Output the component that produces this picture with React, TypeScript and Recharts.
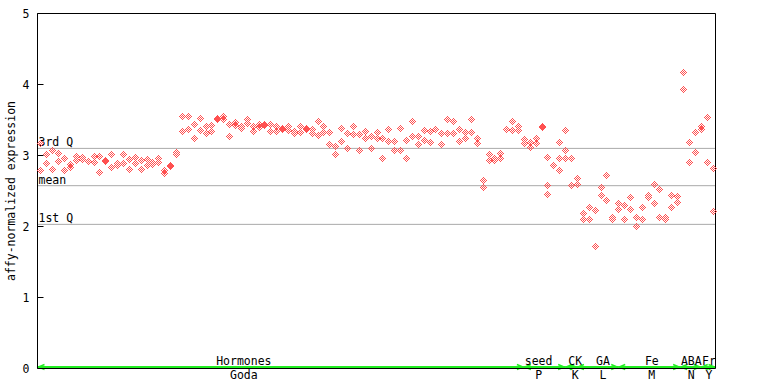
import React from 'react';
import { ComposedChart, Scatter, XAxis, YAxis, CartesianGrid, ReferenceLine } from 'recharts';

// replicate values per sample (samples 1..115, left to right)
const rep1 = [
  3.17, 3.02, 3.08, 3.03, 2.96, 2.88, 2.99, 2.98, 2.92, 2.99,
  3.0, 2.93, 3.02, 2.89, 3.02, 2.95, 2.98, 2.94, 2.95, 2.91,
  2.96, 2.8, 2.87, 3.05, 3.56, 3.55, 3.45, 3.53, 3.42, 3.43,
  3.53, 3.55, 3.44, 3.47, 3.41, 3.51, 3.42, 3.44, 3.44, 3.44,
  3.42, 3.39, 3.42, 3.35, 3.41, 3.39, 3.37, 3.48, 3.41, 3.33,
  3.14, 3.39, 3.31, 3.41, 3.3, 3.34, 3.28, 3.33, 3.24, 3.37,
  3.2, 3.39, 3.22, 3.48, 3.27, 3.36, 3.34, 3.37, 3.32, 3.51,
  3.49, 3.38, 3.33, 3.51, 3.24, 2.65, 3.02, 2.97, 3.04, 3.38,
  3.48, 3.42, 3.23, 3.19, 3.24, 3.41, 2.98, 2.87, 3.19, 3.36,
  2.96, 2.68, 2.19, 2.27, 2.23, 2.55, 2.72, 2.13, 2.33, 2.3,
  2.41, 2.13, 2.27, 2.44, 2.6, 2.53, 2.13, 2.44, 2.43, 4.18,
  3.19, 3.33, 3.42, 3.54, 2.83,
];
const rep2 = [
  2.8, 2.89, 2.81, 2.92, 2.79, 2.84, 2.93, 2.95, 2.92, 2.91,
  2.77, 2.92, 2.84, 2.86, 2.9, 2.81, 2.89, 2.81, 2.86, 2.88,
  2.91, 2.76, 2.85, 3.02, 3.35, 3.37, 3.25, 3.36, 3.31, 3.35,
  3.51, 3.51, 3.28, 3.43, 3.39, 3.46, 3.35, 3.4, 3.43, 3.35,
  3.34, 3.37, 3.36, 3.32, 3.33, 3.37, 3.31, 3.29, 3.33, 3.16,
  3.02, 3.2, 3.1, 3.3, 3.08, 3.24, 3.11, 3.25, 2.96, 3.21,
  3.08, 3.08, 2.97, 3.27, 3.16, 3.22, 3.19, 3.37, 3.16, 3.32,
  3.32, 3.21, 3.25, 3.33, 3.17, 2.55, 2.94, 2.94, 2.97, 3.38,
  3.36, 3.36, 3.17, 3.12, 3.18, 3.4, 2.58, 2.86, 2.96, 3.08,
  2.58, 2.6, 2.11, 2.1, 1.72, 2.45, 2.37, 2.1, 2.24, 2.1,
  2.25, 2.01, 2.1, 2.41, 2.33, 2.13, 2.1, 2.27, 2.35, 3.93,
  2.91, 3.05, 3.38, 2.91, 2.22,
];
// a few samples have a third replicate: [sample, value]
const rep3: [number, number][] = [
  [87, 2.46],
  [89, 2.8],
  [90, 2.97],
];

const q3 = 3.1;
const mean = 2.575;
const q1 = 2.03;

const groupTop = ['Hormones', 'seed', 'CK', 'GA', 'Fe', 'ABA', 'Fr'];
const groupBottom = ['Goda', 'P', 'K', 'L', 'M', 'N', 'Y'];
const groupStart = [0, 82.5, 89.5, 91.5, 98.5, 109, 112.5];
const groupEnd = [82.5, 89.5, 91.5, 98.5, 109, 112.5, 115];
const groupLabelAt = [35, 85, 91.2, 95.9, 104.2, 110.9, 113.9];

const yTicks = [0, 1, 2, 3, 4, 5];
const xGrid = [10, 20, 30, 40, 50, 60, 70, 80, 90, 100, 110];

const FONT = '"DejaVu Sans Mono", monospace';
const RED = '#ff5050';
const GREEN = '#22ee22';

const points = rep1
  .flatMap((v, i) => [
    { x: i + 0.5, y: v },
    { x: i + 0.5, y: rep2[i] },
  ])
  .concat(rep3.map(([s, v]) => ({ x: s - 0.5, y: v })));

// checkered diamond like the original bitmap marker
const Diamond = (props: any) => {
  const cx = Math.round(props.cx);
  const cy = Math.round(props.cy);
  let d = '';
  for (let dx = -3; dx <= 3; dx++) {
    for (let dy = -3; dy <= 3; dy++) {
      const m = Math.abs(dx) + Math.abs(dy);
      if (m <= 3 && m % 2 === 1) d += `M${cx + dx} ${cy + dy}h1v1h-1z`;
    }
  }
  return <path d={d} fill={RED} shapeRendering="crispEdges" />;
};

const LeftTick = (props: any) => {
  const { x, y, payload } = props;
  return (
    <g>
      <line x1={x + 8} x2={x + 14} y1={y} y2={y} stroke="#000" />
      <text x={x} y={y + 4} textAnchor="end" fontFamily={FONT} fontSize={11.5} fill="#000">
        {payload.value}
      </text>
    </g>
  );
};

const RightTick = (props: any) => {
  const { x, y } = props;
  return <line x1={x - 8} x2={x - 14} y1={y} y2={y} stroke="#000" />;
};

const qLabel = (text: string) => (props: any) => {
  const vb = props.viewBox || {};
  return (
    <text x={vb.x + 1} y={vb.y - 2} fontFamily={FONT} fontSize={11.5} fill="#000">
      {text}
    </text>
  );
};

const groupShape = (i: number) => (props: any) => {
  const { x1, x2, y1 } = props;
  const y = y1 - 1.5;
  const lx = x1 + ((x2 - x1) * (groupLabelAt[i] - groupStart[i])) / (groupEnd[i] - groupStart[i]);
  return (
    <g>
      <line x1={x1} x2={x2} y1={y} y2={y} stroke={GREEN} strokeWidth={2} />
      <polyline points={`${x1 + 7},${y - 2.5} ${x1 + 1},${y} ${x1 + 7},${y + 2.5}`} fill="none" stroke={GREEN} strokeWidth={1.5} />
      <polyline points={`${x2 - 7},${y - 2.5} ${x2 - 1},${y} ${x2 - 7},${y + 2.5}`} fill="none" stroke={GREEN} strokeWidth={1.5} />
      <text x={lx} y={y - 2} textAnchor="middle" fontFamily={FONT} fontSize={11.5} fill="#000">
        {groupTop[i]}
      </text>
      <text x={lx} y={y + 11.5} textAnchor="middle" fontFamily={FONT} fontSize={11.5} fill="#000">
        {groupBottom[i]}
      </text>
    </g>
  );
};

export default function App() {
  return (
    <div style={{ position: 'absolute', left: 0, top: 0, width: 768, height: 384, background: '#fff' }}>
      <ComposedChart width={768} height={384} margin={{ top: 13.5, right: 0, bottom: 0, left: 0 }}>
        <CartesianGrid horizontal={false} stroke="#aaaaaa" />
        <XAxis
          type="number"
          dataKey="x"
          domain={[0, 115]}
          ticks={xGrid}
          tick={false}
          tickLine={false}
          height={15.5}
          axisLine={{ stroke: '#000' }}
        />
        <YAxis
          type="number"
          domain={[0, 5]}
          ticks={yTicks}
          width={37.5}
          tickSize={0}
          tickMargin={8}
          tick={<LeftTick />}
          axisLine={{ stroke: '#000' }}
          label={{
            content: () => (
              <text
                x={15}
                y={191}
                transform="rotate(-90 15 191)"
                textAnchor="middle"
                fontFamily={FONT}
                fontSize={11.5}
                fill="#000"
              >
                affy-normalized expression
              </text>
            ),
          }}
        />
        <YAxis
          yAxisId="right"
          orientation="right"
          type="number"
          domain={[0, 5]}
          ticks={yTicks}
          width={52.5}
          tickSize={0}
          tickMargin={0}
          tick={<RightTick />}
          axisLine={{ stroke: '#000' }}
        />
        <ReferenceLine y={5} stroke="#000" />
        <ReferenceLine y={q3} stroke="#aaaaaa" label={{ content: qLabel('3rd Q') }} />
        <ReferenceLine y={mean} stroke="#aaaaaa" label={{ content: qLabel('mean') }} />
        <ReferenceLine y={q1} stroke="#aaaaaa" label={{ content: qLabel('1st Q') }} />
        {groupTop.map((g, i) => (
          <ReferenceLine
            key={g}
            segment={[
              { x: groupStart[i], y: 0 },
              { x: groupEnd[i], y: 0 },
            ]}
            shape={groupShape(i)}
          />
        ))}
        <Scatter data={points} dataKey="y" shape={<Diamond />} isAnimationActive={false} />
      </ComposedChart>
    </div>
  );
}
